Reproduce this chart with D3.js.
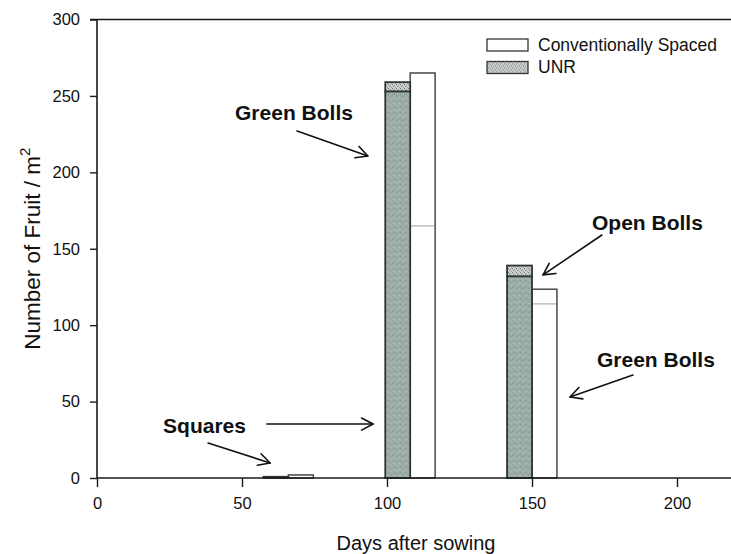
<!DOCTYPE html>
<html>
<head>
<meta charset="utf-8">
<script src="https://cdn.jsdelivr.net/npm/d3@7"></script>
<style>
  html, body { margin: 0; padding: 0; background: #fff; }
  svg { display: block; font-family: "Liberation Sans", Arial, Helvetica, sans-serif; }
</style>
</head>
<body>
<svg id="chart" width="731" height="554"></svg>
<script>
// Sampling dates (days after sowing); UNR bar sits left of the date, conventional to the right
const days = [66, 108, 150];
const barWidthDays = 8.6;

// Fruit per m² — lower segment = green bolls / squares, upper segment = open bolls
const unrGreen  = [0.8, 253, 132];
const unrOpen   = [0,   6,   7];
const convGreen = [2,   165, 114];
const convOpen  = [0,   100, 9.5];

const xTicks = [0, 50, 100, 150, 200];
const yTicks = [0, 50, 100, 150, 200, 250, 300];

const seriesNames = ["Conventionally Spaced", "UNR"];

// Annotation labels and arrows, in data units (days, fruit/m²)
const notes = [
  { text: "Green Bolls", x: 47.6, y: 234.5 },
  { text: "Open Bolls",  x: 170.7, y: 162.5 },
  { text: "Green Bolls", x: 172.4, y: 72.8 },
  { text: "Squares",     x: 22.8,  y: 29.5 }
];
const arrows = [
  { from: [69.0, 227.1],  to: [93.4, 210.7] },
  { from: [174.1, 159.0], to: [153.8, 132.9] },
  { from: [184.8, 67.4],  to: [163.1, 53.0] },
  { from: [58.6, 35.3],   to: [95.2, 35.3] },
  { from: [38.3, 22.9],   to: [59.7, 9.8] }
];

const svg = d3.select("#chart");

const x = d3.scaleLinear().domain([0, 220]).range([97, 735]);
const y = d3.scaleLinear().domain([0, 300]).range([478, 19.5]);

// Fill textures
const defs = svg.append("defs");
const mottle = defs.append("pattern")
  .attr("id", "mottle").attr("patternUnits", "userSpaceOnUse")
  .attr("width", 6).attr("height", 6);
mottle.append("rect").attr("width", 6).attr("height", 6).attr("fill", "#9cada5");
[[0,0,"#84968e"],[3,1,"#b9c6c0"],[1,3,"#b4c1bb"],[4,4,"#80918a"],[5,2,"#a8b8b0"],[2,5,"#8a9b94"]]
  .forEach(([px, py, c]) => mottle.append("rect").attr("x", px).attr("y", py)
    .attr("width", 1).attr("height", 1).attr("fill", c));

const stipple = defs.append("pattern")
  .attr("id", "stipple").attr("patternUnits", "userSpaceOnUse")
  .attr("width", 4).attr("height", 4);
stipple.append("rect").attr("width", 4).attr("height", 4).attr("fill", "#cdd2cf");
[[0,0,"#6c7470"],[2,1,"#8a928e"],[1,2,"#7a827e"],[3,3,"#959c98"]]
  .forEach(([px, py, c]) => stipple.append("rect").attr("x", px).attr("y", py)
    .attr("width", 1).attr("height", 1).attr("fill", c));

function segments(lower, upper) {
  return days.map((d, i) => [
    { d, y0: 0, y1: lower[i], part: "lower" },
    { d, y0: lower[i], y1: lower[i] + upper[i], part: "upper" }
  ]).flat().filter(s => s.y1 - s.y0 > 0);
}

// Conventionally spaced bars (right of each date)
svg.append("g").selectAll("rect")
  .data(segments(convGreen, convOpen))
  .join("rect")
  .attr("x", s => x(s.d))
  .attr("width", s => x(s.d + barWidthDays) - x(s.d))
  .attr("y", s => y(s.y1))
  .attr("height", s => y(s.y0) - y(s.y1))
  .attr("fill", "#fff")
  .attr("stroke", "#bdbdbd")
  .attr("stroke-width", 1.2);

// Outer outline of each conventional bar
svg.append("g").selectAll("rect")
  .data(days.map((d, i) => ({ d, total: convGreen[i] + convOpen[i] })))
  .join("rect")
  .attr("x", s => x(s.d))
  .attr("width", s => x(s.d + barWidthDays) - x(s.d))
  .attr("y", s => y(s.total))
  .attr("height", s => y(0) - y(s.total))
  .attr("fill", "none")
  .attr("stroke", "#4a4a4a")
  .attr("stroke-width", 1.4);

// UNR bars (left of each date)
svg.append("g").selectAll("rect")
  .data(segments(unrGreen, unrOpen))
  .join("rect")
  .attr("x", s => x(s.d - barWidthDays))
  .attr("width", s => x(s.d) - x(s.d - barWidthDays))
  .attr("y", s => y(s.y1))
  .attr("height", s => y(s.y0) - y(s.y1))
  .attr("fill", s => s.part === "upper" ? "url(#stipple)" : "url(#mottle)")
  .attr("stroke", "#2e3431")
  .attr("stroke-width", 1.8);

// Axes
const axisColor = "#1a1a1a";
const gx = svg.append("g")
  .attr("transform", `translate(0,${y(0)})`)
  .call(d3.axisBottom(x).tickValues(xTicks).tickSize(9).tickPadding(10).tickFormat(d3.format("d")));
const gy = svg.append("g")
  .attr("transform", `translate(${x(0)},0)`)
  .call(d3.axisLeft(y).tickValues(yTicks).tickSize(7).tickPadding(10).tickFormat(d3.format("d")));
[gx, gy].forEach(g => {
  g.select(".domain").attr("stroke", axisColor).attr("stroke-width", 1.6);
  g.selectAll(".tick line").attr("stroke", axisColor).attr("stroke-width", 1.4);
  g.selectAll(".tick text").attr("fill", "#111").attr("font-size", 16.5)
    .attr("font-family", "'Liberation Sans', Arial, sans-serif");
});
gx.select(".domain").attr("d", `M${x(0)},0H${x(220)}`);
gy.select(".domain").attr("d", `M0,${y(300)}V${y(0)}`);

// Top frame line
svg.append("line")
  .attr("x1", x(0) - 7).attr("x2", x(220))
  .attr("y1", y(300)).attr("y2", y(300))
  .attr("stroke", axisColor).attr("stroke-width", 1.5);

// Axis titles
svg.append("text")
  .attr("x", 416).attr("y", 550)
  .attr("text-anchor", "middle")
  .attr("font-size", 20).attr("fill", "#111")
  .text("Days after sowing");

const yTitle = svg.append("text")
  .attr("transform", `translate(40,${(y(0) + y(300)) / 2}) rotate(-90)`)
  .attr("text-anchor", "middle")
  .attr("font-size", 22.5).attr("fill", "#111");
yTitle.append("tspan").text("Number of Fruit / m");
yTitle.append("tspan").attr("font-size", 15).attr("dy", -10).text("2");

// Legend
const legend = svg.append("g").attr("transform", "translate(487,39)");
const legendFills = ["#fff", "url(#stipple)"];
seriesNames.forEach((name, i) => {
  const row = legend.append("g").attr("transform", `translate(0,${i * 22.5})`);
  row.append("rect")
    .attr("width", 41).attr("height", 12)
    .attr("fill", legendFills[i])
    .attr("stroke", "#333").attr("stroke-width", 1.3);
  row.append("text")
    .attr("x", 51).attr("y", 11.5)
    .attr("font-size", 17.5).attr("fill", "#111")
    .text(name);
});

// Annotations
svg.append("g").selectAll("text")
  .data(notes)
  .join("text")
  .attr("x", n => x(n.x))
  .attr("y", n => y(n.y))
  .attr("font-size", 21)
  .attr("font-weight", "bold")
  .attr("fill", "#111")
  .text(n => n.text);

const arrowG = svg.append("g")
  .attr("fill", "none").attr("stroke", "#111")
  .attr("stroke-width", 1.6).attr("stroke-linecap", "round").attr("stroke-linejoin", "round");
arrows.forEach(a => {
  const x1 = x(a.from[0]), y1 = y(a.from[1]);
  const x2 = x(a.to[0]),   y2 = y(a.to[1]);
  const ang = Math.atan2(y2 - y1, x2 - x1);
  const len = 13, spread = Math.PI / 6.5;
  arrowG.append("line").attr("x1", x1).attr("y1", y1).attr("x2", x2).attr("y2", y2);
  const p1 = [x2 - len * Math.cos(ang - spread), y2 - len * Math.sin(ang - spread)];
  const p2 = [x2 - len * Math.cos(ang + spread), y2 - len * Math.sin(ang + spread)];
  arrowG.append("path").attr("d", `M${p1[0]},${p1[1]}L${x2},${y2}L${p2[0]},${p2[1]}`);
});
</script>
</body>
</html>
